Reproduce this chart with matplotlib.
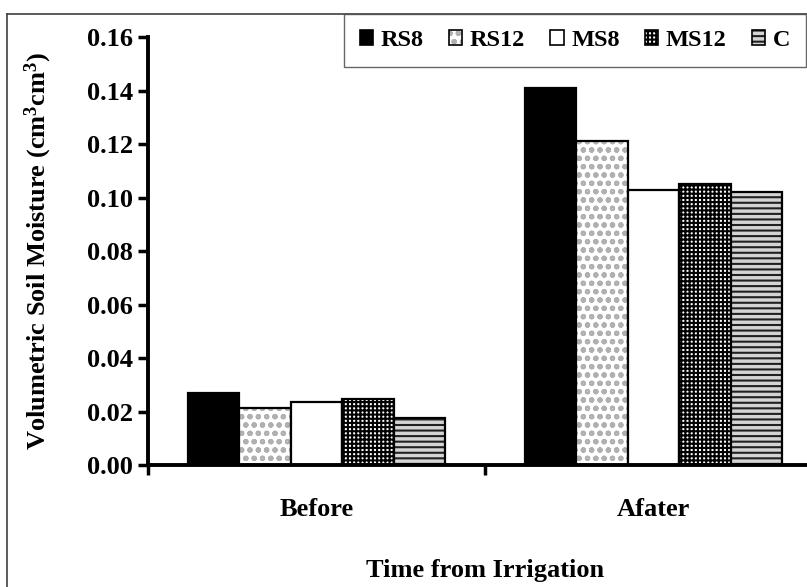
import matplotlib
matplotlib.use('Agg')
import matplotlib.pyplot as plt
import numpy as np
from matplotlib.patches import Patch
from matplotlib.lines import Line2D
from matplotlib.legend_handler import HandlerTuple
from matplotlib.ticker import FormatStrFormatter, FixedLocator

plt.rcParams['font.family'] = 'Liberation Serif'
plt.rcParams['font.weight'] = 'bold'
plt.rcParams['axes.labelweight'] = 'bold'
plt.rcParams['mathtext.fontset'] = 'custom'
plt.rcParams['mathtext.bf'] = 'Liberation Serif:bold'
plt.rcParams['mathtext.rm'] = 'Liberation Serif:bold'
plt.rcParams['mathtext.default'] = 'bf'
plt.rcParams['hatch.linewidth'] = 1.5

# data
categories = ['Before', 'Afater']
series = ['RS8', 'RS12', 'MS8', 'MS12', 'C']
rs8 = [0.027, 0.141]
rs12 = [0.0215, 0.121]
ms8 = [0.0235, 0.103]
ms12 = [0.0245, 0.105]
c = [0.0175, 0.102]
values = [rs8, rs12, ms8, ms12, c]

# fill colour, hatch, hatch colour per series
styles = [
    ('black', '', 'black'),
    ('white', 'oo', '#b0b0b0'),
    ('white', '', 'black'),
    ('white', '++++', 'black'),
    ('#d4d4d4', '---', '#202020'),
]

fig = plt.figure(figsize=(8.07, 5.87), dpi=100)
ax = fig.add_axes([0.1834, 0.2078, 0.835, 0.7291])

x = np.arange(len(categories))
w = 0.153
handles = []
for i, (name, vals) in enumerate(zip(series, values)):
    fc, hatch, hc = styles[i]
    pos = x + (i - 2) * w
    ax.bar(pos, vals, w, color=fc, hatch=hatch, edgecolor=hc, linewidth=0)
    ax.bar(pos, vals, w, fill=False, edgecolor='black', linewidth=1.6)
    h1 = Patch(facecolor=fc, hatch=hatch, edgecolor=hc, linewidth=0)
    h2 = Patch(fill=False, edgecolor='black', linewidth=1.2)
    handles.append((h1, h2))

ax.set_xlim(-0.5, 1.5)
ax.set_ylim(0, 0.16)
ax.set_yticks(np.arange(0, 0.161, 0.02))
ax.yaxis.set_major_formatter(FormatStrFormatter('%.2f'))

# category ticks sit between groups, labels at group centres
ax.xaxis.set_major_locator(FixedLocator([-0.5, 0.5, 1.5]))
ax.xaxis.set_minor_locator(FixedLocator(x))
ax.set_xticklabels([], minor=False)
ax.set_xticklabels(categories, minor=True)
ax.tick_params(axis='x', which='minor', length=0, pad=24, labelsize=19)
ax.tick_params(axis='x', which='major', length=7, width=2.5, direction='out')
ax.tick_params(axis='y', length=7, width=2.5, direction='out', pad=4, labelsize=19)

for s in ['top', 'right']:
    ax.spines[s].set_visible(False)
for s in ['left', 'bottom']:
    ax.spines[s].set_linewidth(2.8)

ax.set_xlabel('Time from Irrigation', fontsize=19, labelpad=27)
ax.set_ylabel('Volumetric Soil Moisture (cm$^3$cm$^3$)', fontsize=19)
ax.yaxis.set_label_coords(-0.14, 0.5)

leg = fig.legend(handles, series, loc='upper left',
                 bbox_to_anchor=(344 / 807, 1 - 14 / 587), ncol=5,
                 handler_map={tuple: HandlerTuple(ndivide=1)},
                 fontsize=17.5, frameon=True, fancybox=False,
                 handlelength=0.55, handleheight=0.6, handletextpad=0.3,
                 columnspacing=1.05, borderpad=0.65, borderaxespad=0)
leg.get_frame().set_edgecolor('#404040')
leg.get_frame().set_linewidth(1.0)

# outer frame of the original chart area (cut off at right and bottom)
fx = 7 / 807
fy = 1 - 14 / 587
fig.add_artist(Line2D([fx, fx], [0, fy], transform=fig.transFigure, color='#404040', lw=1.2))
fig.add_artist(Line2D([fx, 1], [fy, fy], transform=fig.transFigure, color='#404040', lw=1.2))

fig.savefig('out.png', dpi=100)
